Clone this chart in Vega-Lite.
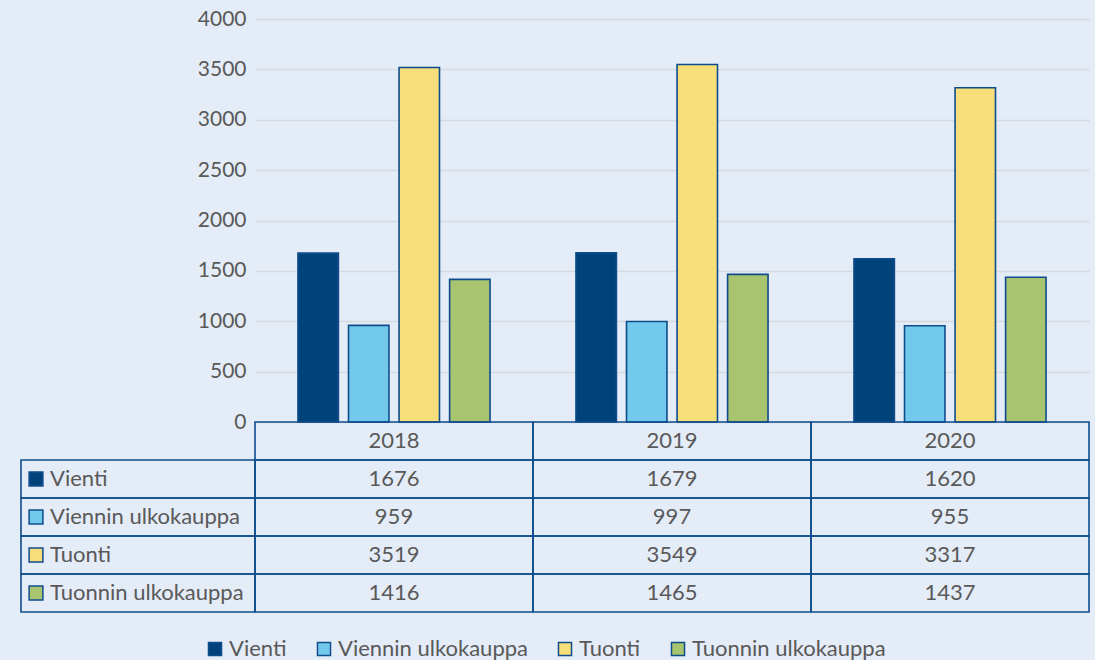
{
  "$schema": "https://vega.github.io/schema/vega-lite/v6.json",
  "background": "#E4ECF7",
  "padding": {"left": 20, "top": 8, "right": 5, "bottom": 5},
  "bounds": "flush",
  "spacing": 0,
  "columns": 2,
  "datasets": {
    "vals": [
      {"year": "2018", "series": "Vienti", "value": 1676},
      {"year": "2018", "series": "Viennin ulkokauppa", "value": 959},
      {"year": "2018", "series": "Tuonti", "value": 3519},
      {"year": "2018", "series": "Tuonnin ulkokauppa", "value": 1416},
      {"year": "2019", "series": "Vienti", "value": 1679},
      {"year": "2019", "series": "Viennin ulkokauppa", "value": 997},
      {"year": "2019", "series": "Tuonti", "value": 3549},
      {"year": "2019", "series": "Tuonnin ulkokauppa", "value": 1465},
      {"year": "2020", "series": "Vienti", "value": 1620},
      {"year": "2020", "series": "Viennin ulkokauppa", "value": 955},
      {"year": "2020", "series": "Tuonti", "value": 3317},
      {"year": "2020", "series": "Tuonnin ulkokauppa", "value": 1437}
    ],
    "years": [{"year": "2018"}, {"year": "2019"}, {"year": "2020"}],
    "series": [
      {"series": "Vienti"},
      {"series": "Viennin ulkokauppa"},
      {"series": "Tuonti"},
      {"series": "Tuonnin ulkokauppa"}
    ]
  },
  "config": {
    "font": "Lato",
    "view": {"stroke": null},
    "axis": {"labelFont": "Lato", "labelFontSize": 21, "labelColor": "#595959"},
    "legend": {"labelFont": "Lato", "labelFontSize": 22, "labelColor": "#595959", "labelLimit": 400}
  },
  "resolve": {"scale": {"color": "shared"}},
  "concat": [
    {
      "width": 234,
      "height": 403,
      "data": {"name": "years"},
      "mark": {"type": "text", "opacity": 0},
      "encoding": {"text": {"value": ""}}
    },
    {
      "width": 834,
      "height": 403,
      "data": {"name": "vals"},
      "mark": {"type": "bar", "stroke": "#0E4C8C", "strokeWidth": 1.6},
      "encoding": {
        "x": {"field": "year", "type": "nominal", "axis": null, "scale": {"paddingInner": 0, "paddingOuter": 0}},
        "xOffset": {"field": "series", "type": "nominal", "sort": ["Vienti", "Viennin ulkokauppa", "Tuonti", "Tuonnin ulkokauppa"], "scale": {"paddingInner": 0.2, "paddingOuter": 0.85}},
        "y": {
          "field": "value", "type": "quantitative",
          "scale": {"domain": [0, 4000], "nice": false},
          "axis": {"title": null, "format": "d", "values": [0, 500, 1000, 1500, 2000, 2500, 3000, 3500, 4000], "domain": false, "ticks": false, "labelPadding": 9, "gridColor": "#D6D9DE", "gridWidth": 1.5}
        },
        "color": {
          "field": "series", "type": "nominal",
          "scale": {"domain": ["Vienti", "Viennin ulkokauppa", "Tuonti", "Tuonnin ulkokauppa"], "range": ["#00427A", "#72C9EC", "#F6DE7A", "#A9C46E"]},
          "legend": {"title": null, "orient": "none", "legendX": 183, "legendY": 619, "direction": "horizontal", "symbolType": "square", "symbolSize": 170, "symbolStrokeColor": "#0E4C8C", "symbolStrokeWidth": 1.5, "symbolOpacity": 1, "columnPadding": 26, "labelOffset": 3}
        }
      }
    },
    {
      "width": 234,
      "height": 190,
      "data": {"name": "series"},
      "encoding": {
        "y": {"field": "series", "type": "nominal", "axis": null, "scale": {"domain": ["header", "Vienti", "Viennin ulkokauppa", "Tuonti", "Tuonnin ulkokauppa"], "paddingInner": 0, "paddingOuter": 0}}
      },
      "layer": [
        {"mark": {"type": "rect", "fill": null, "stroke": "#0E4C8C", "strokeWidth": 1.6}},
        {
          "mark": {"type": "point", "shape": "square", "filled": true, "size": 190, "stroke": "#0E4C8C", "strokeWidth": 1.5, "opacity": 1},
          "encoding": {"x": {"value": 15}, "color": {"field": "series", "type": "nominal", "legend": null}}
        },
        {
          "mark": {"type": "text", "align": "left", "baseline": "middle", "fontSize": 22, "fill": "#595959"},
          "encoding": {"x": {"value": 29}, "text": {"field": "series"}}
        }
      ]
    },
    {
      "width": 834,
      "height": 190,
      "encoding": {
        "x": {"field": "year", "type": "nominal", "axis": null, "scale": {"paddingInner": 0, "paddingOuter": 0}}
      },
      "layer": [
        {
          "data": {"name": "vals"},
          "mark": {"type": "rect", "fill": null, "stroke": "#0E4C8C", "strokeWidth": 1.6},
          "encoding": {"y": {"field": "series", "type": "nominal", "axis": null, "scale": {"domain": ["header", "Vienti", "Viennin ulkokauppa", "Tuonti", "Tuonnin ulkokauppa"], "paddingInner": 0, "paddingOuter": 0}}}
        },
        {
          "data": {"name": "years"},
          "mark": {"type": "rect", "fill": null, "stroke": "#0E4C8C", "strokeWidth": 1.6},
          "encoding": {"y": {"datum": "header", "type": "nominal"}}
        },
        {
          "data": {"name": "vals"},
          "mark": {"type": "text", "align": "center", "baseline": "middle", "fontSize": 22, "fill": "#595959"},
          "encoding": {"y": {"field": "series", "type": "nominal"}, "text": {"field": "value", "type": "quantitative", "format": "d"}}
        },
        {
          "data": {"name": "years"},
          "mark": {"type": "text", "align": "center", "baseline": "middle", "fontSize": 22, "fill": "#595959"},
          "encoding": {"y": {"datum": "header", "type": "nominal"}, "text": {"field": "year"}}
        }
      ]
    }
  ]
}
